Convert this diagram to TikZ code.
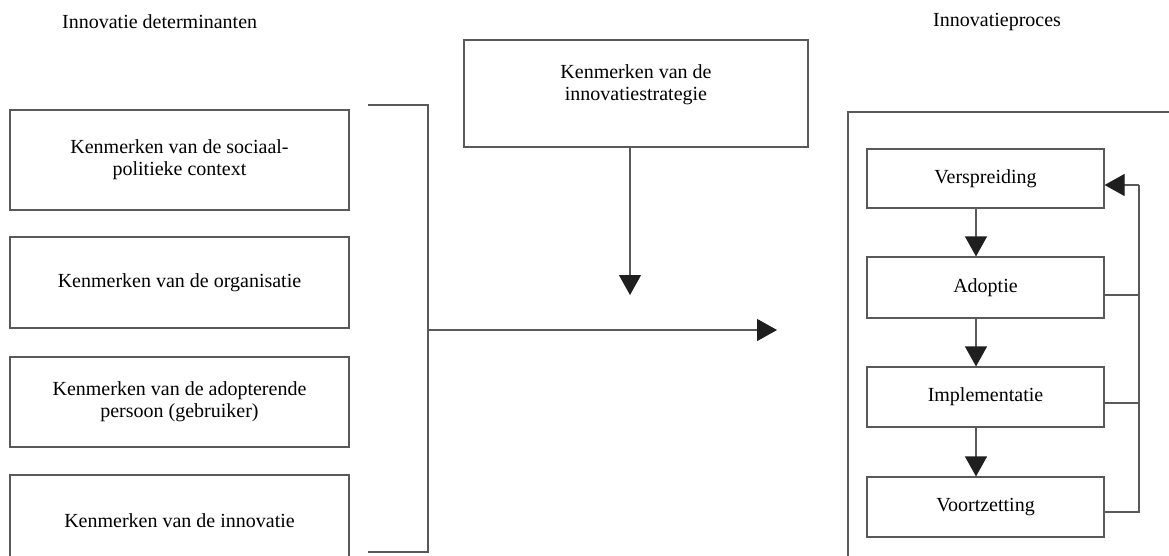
\documentclass[tikz,border=0pt]{standalone}
\usepackage{fontspec}
\setmainfont{Liberation Serif}
\usetikzlibrary{arrows.meta}
\begin{document}
\begin{tikzpicture}[x=1pt,y=-1pt,
  line/.style={draw=black!65, line width=1.2pt},
  box/.style={line, rectangle, inner sep=0pt, align=center, font=\fontsize{20}{22}\selectfont},
  head/.style={font=\fontsize{20}{22}\selectfont, anchor=west, inner sep=0pt},
  tip/.style={-{Triangle[length=20pt,width=22pt,fill=black!88,color=black!88]}}]
\useasboundingbox (0,0) rectangle (1169,556);
\clip (0,0) rectangle (1169,556);
\fill[white] (0,0) rectangle (1169,556);

% headers
\node[head] (hl) at (62,22) {Innovatie determinanten};
\node[head] (hr) at (933,22) {Innovatieproces};

% left boxes
\node[box, minimum width=339, minimum height=100] (c1) at (179.5,160) {Kenmerken van de sociaal-\\politieke context};
\node[box, minimum width=339, minimum height=91] (c2) at (179.5,282.5) {Kenmerken van de organisatie};
\node[box, minimum width=339, minimum height=90] (c3) at (179.5,402) {Kenmerken van de adopterende\\persoon (gebruiker)};
\node[box, minimum width=339, minimum height=92] (c4) at (179.5,521) {Kenmerken van de innovatie};

% bracket
\coordinate (bt0) at (368,105);
\coordinate (bt) at (428,105);
\coordinate (bb) at (428,552);
\coordinate (bb0) at (368,552);
\draw[line] (bt0) -- (bt) -- (bb) -- (bb0);
\coordinate (hs) at (428,330);
\coordinate (he) at (777,330);
\draw[line, tip] (hs) -- (he);

% strategy
\node[box, minimum width=344, minimum height=107] (strat) at (636,93.5) {};
\node[box, draw=none] (stratt) at (636,85) {Kenmerken van de\\innovatiestrategie};
\coordinate (sarr) at (630,295);
\draw[line, tip] (strat.south -| sarr) -- (sarr);

% outer process frame
\coordinate (o1) at (1169,112);
\coordinate (o2) at (848,112);
\coordinate (o3) at (848,556);
\draw[line] (o1) -- (o2) -- (o3);

% process boxes
\node[box, minimum width=237, minimum height=59] (v) at (985.5,178.5) {Verspreiding};
\node[box, minimum width=237, minimum height=61] (a) at (985.5,287.5) {Adoptie};
\node[box, minimum width=237, minimum height=60] (i) at (985.5,397) {Implementatie};
\node[box, minimum width=237, minimum height=60] (vo) at (985.5,507) {Voortzetting};

\coordinate (ax) at (976,0);
\draw[line, tip] (v.south -| ax) -- (a.north -| ax);
\draw[line, tip] (a.south -| ax) -- (i.north -| ax);
\draw[line, tip] (i.south -| ax) -- (vo.north -| ax);

% feedback
\coordinate (fbtop) at (1139,185);
\coordinate (fbbot) at (1139,512);
\coordinate (ja) at (1139,295);
\coordinate (ji) at (1139,403);
\draw[line] (vo.east |- fbbot) -- (fbbot) -- (fbtop);
\draw[line, tip] (fbtop) -- (v.east |- fbtop);
\draw[line] (a.east |- ja) -- (ja);
\draw[line] (i.east |- ji) -- (ji);
\end{tikzpicture}
\end{document}
